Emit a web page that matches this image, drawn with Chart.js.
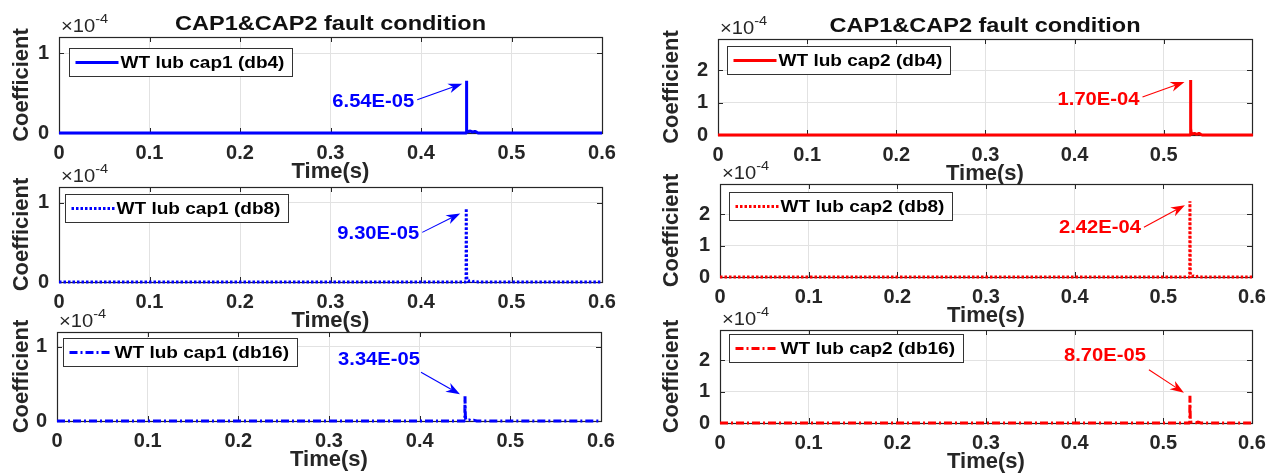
<!DOCTYPE html>
<html>
<head>
<meta charset="utf-8">
<script src="https://cdn.jsdelivr.net/npm/chart.js@4.4.0/dist/chart.umd.min.js"></script>
<style>
    html, body { margin: 0; padding: 0; background: #fff; }
    #wrap { position: relative; width: 1278px; height: 475px; overflow: hidden; background: #fff; }
    #wrap canvas { position: absolute; left: 0; top: 0; }
</style>
</head>
<body>
<div id="wrap">
    <canvas id="c1" width="1278" height="475"></canvas>
    <canvas id="c2" width="1278" height="475"></canvas>
    <canvas id="c3" width="1278" height="475"></canvas>
    <canvas id="c4" width="1278" height="475"></canvas>
    <canvas id="c5" width="1278" height="475"></canvas>
    <canvas id="c6" width="1278" height="475"></canvas>
</div>
<script>
// ---- data ----
const cap1Time = [0, 0.4498, 0.45, 0.4504, 0.4508, 0.452, 0.4545, 0.457, 0.4595, 0.4615, 0.463, 0.6];
const cap1Db4  = [0, 0, 6.54e-5, 1.2e-5, 4.0e-6, 1.5e-6, 2.5e-6, 1.0e-6, 2.0e-6, 1.0e-6, 0, 0];
const cap1Db8  = [0, 0, 9.30e-5, 8.0e-6, 3.0e-6, 1.0e-6, 1.5e-6, 0.5e-6, 1.0e-6, 0.5e-6, 0, 0];
const cap1Db16 = [0, 0, 3.34e-5, 6.0e-6, 2.0e-6, 1.0e-6, 1.5e-6, 0.5e-6, 1.0e-6, 0.5e-6, 0, 0];

const cap2Time = [0, 0.5298, 0.53, 0.5304, 0.5308, 0.532, 0.5345, 0.537, 0.5395, 0.5415, 0.543, 0.6];
const cap2Db4  = [0, 0, 1.70e-4, 2.0e-5, 6.0e-6, 3.0e-6, 5.0e-6, 2.0e-6, 5.0e-6, 2.0e-6, 0, 0];
const cap2Db8  = [0, 0, 2.42e-4, 1.5e-5, 5.0e-6, 2.0e-6, 3.0e-6, 1.0e-6, 3.0e-6, 1.0e-6, 0, 0];
const cap2Db16 = [0, 0, 8.70e-5, 1.0e-5, 4.0e-6, 2.0e-6, 3.0e-6, 1.0e-6, 3.0e-6, 1.0e-6, 0, 0];

const legendLabels = ["WT lub cap1 (db4)", "WT lub cap1 (db8)", "WT lub cap1 (db16)",
                      "WT lub cap2 (db4)", "WT lub cap2 (db8)", "WT lub cap2 (db16)"];
const peakLabels = ["6.54E-05", "9.30E-05", "3.34E-05", "1.70E-04", "2.42E-04", "8.70E-05"];
const titleText = "CAP1&CAP2 fault condition";

const xTickValues = [0, 0.1, 0.2, 0.3, 0.4, 0.5, 0.6];
const xTickLabels = ["0", "0.1", "0.2", "0.3", "0.4", "0.5", "0.6"];
const cap1YTickValues = [0, 1e-4];
const cap1YTickLabels = ["0", "1"];
const cap2YTickValues = [0, 1e-4, 2e-4];
const cap2YTickLabels = ["0", "1", "2"];
const cap1YMax = 1.2e-4;
const cap2YMax = 2.97e-4;

// ---- look ----
const FONT = '"Liberation Sans", Arial, Helvetica, sans-serif';
const INK = "#262626";
const BLUE = "#0000ff";
const RED = "#ff0000";
const SX = 1.12; // text in the figure is a bit wider than plain Arial

const DOTTED = [2.5, 2];
const DASHDOT = [8, 3, 2, 3];

const panels = [
    { id: "c1", time: cap1Time, values: cap1Db4, label: legendLabels[0], peak: peakLabels[0], color: BLUE, dash: [],
      xMax: 0.6, yMax: cap1YMax, yTicks: cap1YTickValues, yLabels: cap1YTickLabels,
      area: { l: 59, t: 37, r: 602, b: 133 }, yW: 48, title: true,
      legend: [10, 11], note: { text: [-93, 21], tail: [-49, 19], tip: [-4, 3] } },
    { id: "c2", time: cap1Time, values: cap1Db8, label: legendLabels[1], peak: peakLabels[1], color: BLUE, dash: DOTTED,
      xMax: 0.6, yMax: cap1YMax, yTicks: cap1YTickValues, yLabels: cap1YTickLabels,
      area: { l: 59, t: 187, r: 602, b: 282 }, yW: 48, title: false,
      legend: [6, 7], note: { text: [-88, 26], tail: [-44, 24], tip: [-6, 5] } },
    { id: "c3", time: cap1Time, values: cap1Db16, label: legendLabels[2], peak: peakLabels[2], color: BLUE, dash: DASHDOT,
      xMax: 0.6, yMax: cap1YMax, yTicks: cap1YTickValues, yLabels: cap1YTickLabels,
      area: { l: 57, t: 332, r: 601, b: 421 }, yW: 46, title: false,
      legend: [6, 6], note: { text: [-86, -36], tail: [-44, -24], tip: [-5, -2] } },
    { id: "c4", time: cap2Time, values: cap2Db4, label: legendLabels[3], peak: peakLabels[3], color: RED, dash: [],
      xMax: 0.599, yMax: cap2YMax, yTicks: cap2YTickValues, yLabels: cap2YTickLabels,
      area: { l: 718, t: 39, r: 1252, b: 135 }, yW: 57, title: true,
      legend: [9, 7], note: { text: [-92, 20], tail: [-48, 17], tip: [-6, 2] } },
    { id: "c5", time: cap2Time, values: cap2Db8, label: legendLabels[4], peak: peakLabels[4], color: RED, dash: DOTTED,
      xMax: 0.6, yMax: cap2YMax, yTicks: cap2YTickValues, yLabels: cap2YTickLabels,
      area: { l: 720, t: 184, r: 1252, b: 277 }, yW: 59, title: false,
      legend: [9, 8], note: { text: [-90, 27], tail: [-46, 26], tip: [-5, 4] } },
    { id: "c6", time: cap2Time, values: cap2Db16, label: legendLabels[5], peak: peakLabels[5], color: RED, dash: DASHDOT,
      xMax: 0.6, yMax: cap2YMax, yTicks: cap2YTickValues, yLabels: cap2YTickLabels,
      area: { l: 720, t: 330, r: 1252, b: 423 }, yW: 59, title: false,
      legend: [9, 4], note: { text: [-85, -40], tail: [-41, -26], tip: [-6, -3] } }
];

function stretchedText(ctx, text, x, y) {
    ctx.save();
    ctx.translate(x, y);
    ctx.scale(SX, 1);
    ctx.fillText(text, 0, 0);
    ctx.restore();
}

function drawArrow(ctx, x0, y0, x1, y1, color) {
    const ang = Math.atan2(y1 - y0, x1 - x0);
    const c = Math.cos(ang), s = Math.sin(ang);
    const len = 14, half = 5;
    const bx = x1 - len * c, by = y1 - len * s;
    const nx = x1 - 0.7 * len * c, ny = y1 - 0.7 * len * s;
    ctx.save();
    ctx.strokeStyle = color;
    ctx.fillStyle = color;
    ctx.lineWidth = 1.1;
    ctx.setLineDash([]);
    ctx.beginPath();
    ctx.moveTo(x0, y0);
    ctx.lineTo(nx, ny);
    ctx.stroke();
    ctx.beginPath();
    ctx.moveTo(x1, y1);
    ctx.lineTo(bx - half * s, by + half * c);
    ctx.lineTo(nx, ny);
    ctx.lineTo(bx + half * s, by - half * c);
    ctx.closePath();
    ctx.fill();
    ctx.restore();
}

// frame, inward ticks, legend box, peak note, title
const decorPlugin = {
    id: "decor",
    beforeDatasetsDraw(chart, args, opts) {
        const p = opts.panel;
        const ctx = chart.ctx;
        const { left, right, top, bottom } = chart.chartArea;
        const xs = chart.scales.x, ys = chart.scales.y;
        ctx.save();
        ctx.strokeStyle = INK;
        ctx.lineWidth = 1;
        ctx.beginPath();
        xTickValues.forEach((v) => {
            if (v > p.xMax + 1e-9) return;
            const px = Math.round(xs.getPixelForValue(v)) + 0.5;
            ctx.moveTo(px, bottom); ctx.lineTo(px, bottom - 5);
            ctx.moveTo(px, top); ctx.lineTo(px, top + 5);
        });
        p.yTicks.forEach((v) => {
            const py = Math.round(ys.getPixelForValue(v)) + 0.5;
            ctx.moveTo(left, py); ctx.lineTo(left + 5, py);
            ctx.moveTo(right, py); ctx.lineTo(right - 5, py);
        });
        ctx.stroke();
        ctx.lineWidth = 1.2;
        ctx.strokeRect(Math.round(left) + 0.5, Math.round(top) + 0.5,
                       Math.round(right - left), Math.round(bottom - top));
        ctx.restore();
    },
    afterDatasetsDraw(chart, args, opts) {
        const p = opts.panel;
        const ctx = chart.ctx;
        const { left, right, top } = chart.chartArea;
        const xs = chart.scales.x, ys = chart.scales.y;

        // exponent label above the y axis
        ctx.save();
        ctx.fillStyle = INK;
        ctx.textBaseline = "alphabetic";
        ctx.font = "18px " + FONT;
        stretchedText(ctx, "\u00d710", left + 2, top - 5);
        const w = ctx.measureText("\u00d710").width * SX;
        ctx.font = "13px " + FONT;
        stretchedText(ctx, "-4", left + 2 + w, top - 14);
        ctx.restore();

        // title
        if (p.title) {
            ctx.save();
            ctx.fillStyle = "#111";
            ctx.font = "bold 21px " + FONT;
            ctx.textAlign = "center";
            ctx.textBaseline = "alphabetic";
            stretchedText(ctx, titleText, (left + right) / 2, top - 7);
            ctx.restore();
        }

        // legend
        ctx.save();
        ctx.font = "bold 17px " + FONT;
        const tw = ctx.measureText(p.label).width * SX;
        const bx = Math.round(left + p.legend[0]) + 0.5;
        const by = Math.round(top + p.legend[1]) + 0.5;
        const bh = 28, bw = Math.round(52 + tw + 7);
        ctx.fillStyle = "#fff";
        ctx.fillRect(bx, by, bw, bh);
        ctx.strokeStyle = "#333";
        ctx.lineWidth = 1;
        ctx.strokeRect(bx, by, bw, bh);
        ctx.strokeStyle = p.color;
        ctx.lineWidth = 3;
        ctx.setLineDash(p.dash);
        ctx.beginPath();
        ctx.moveTo(bx + 6, by + bh / 2);
        ctx.lineTo(bx + 49, by + bh / 2);
        ctx.stroke();
        ctx.setLineDash([]);
        ctx.fillStyle = "#000";
        ctx.textBaseline = "middle";
        stretchedText(ctx, p.label, bx + 51, by + bh / 2 + 1);
        ctx.restore();

        // peak note with arrow
        let peakIdx = 0;
        p.values.forEach((v, i) => { if (v > p.values[peakIdx]) peakIdx = i; });
        const sx = xs.getPixelForValue(p.time[peakIdx]);
        const sy = ys.getPixelForValue(p.values[peakIdx]);
        ctx.save();
        ctx.fillStyle = p.color;
        ctx.font = "bold 18px " + FONT;
        ctx.textAlign = "center";
        ctx.textBaseline = "middle";
        stretchedText(ctx, p.peak, sx + p.note.text[0], sy + p.note.text[1]);
        ctx.restore();
        drawArrow(ctx, sx + p.note.tail[0], sy + p.note.tail[1], sx + p.note.tip[0], sy + p.note.tip[1], p.color);
    }
};

function labelFor(values, labels, value, maxValue) {
    if (value > maxValue + 1e-9) return null;
    const i = values.findIndex((v) => Math.abs(v - value) < 1e-9);
    return i >= 0 ? labels[i] : null;
}

function makePanel(p) {
    const xH = 50;
    const points = p.time.map((t, i) => ({ x: t, y: p.values[i] }));
    const xTicks = xTickValues.filter((v) => v <= p.xMax + 1e-9);

    new Chart(document.getElementById(p.id), {
        type: "line",
        data: {
            datasets: [{
                label: p.label,
                data: points,
                borderColor: p.color,
                borderWidth: 3,
                borderDash: p.dash,
                borderJoinStyle: "bevel",
                pointRadius: 0,
                tension: 0,
                fill: false,
                clip: 5
            }]
        },
        options: {
            responsive: false,
            animation: false,
            events: [],
            layout: {
                autoPadding: false,
                padding: {
                    left: p.area.l - p.yW,
                    top: p.area.t,
                    right: 1278 - p.area.r,
                    bottom: 475 - p.area.b - xH
                }
            },
            plugins: {
                legend: { display: false },
                title: { display: false },
                tooltip: { enabled: false },
                decor: { panel: p }
            },
            scales: {
                x: {
                    type: "linear",
                    min: 0,
                    max: p.xMax,
                    afterBuildTicks: (scale) => {
                        scale.ticks = xTicks.map((v) => ({ value: v }));
                    },
                    afterFit: (scale) => { scale.height = xH; },
                    grid: { color: "#e2e2e2", lineWidth: 1, drawTicks: false },
                    border: { display: false },
                    ticks: {
                        autoSkip: false,
                        maxRotation: 0,
                        padding: 8,
                        color: INK,
                        font: { family: FONT, size: 20, weight: "bold", lineHeight: 1.2 },
                        callback: (value) => labelFor(xTickValues, xTickLabels, value, p.xMax)
                    },
                    title: {
                        display: true,
                        text: "Time(s)",
                        color: INK,
                        padding: { top: 0, bottom: 0 },
                        font: { family: FONT, size: 22, weight: "bold", lineHeight: 1 }
                    }
                },
                y: {
                    type: "linear",
                    min: 0,
                    max: p.yMax,
                    afterBuildTicks: (scale) => {
                        scale.ticks = p.yTicks.map((v) => ({ value: v }));
                    },
                    afterFit: (scale) => { scale.width = p.yW; },
                    grid: { color: "#e2e2e2", lineWidth: 1, drawTicks: false },
                    border: { display: false },
                    ticks: {
                        autoSkip: false,
                        padding: 10,
                        color: INK,
                        font: { family: FONT, size: 20, weight: "bold", lineHeight: 1.2 },
                        callback: (value) => labelFor(p.yTicks, p.yLabels, value, p.yMax)
                    },
                    title: {
                        display: true,
                        text: "Coefficient",
                        color: INK,
                        padding: { top: 0, bottom: 0 },
                        font: { family: FONT, size: 22, weight: "bold", lineHeight: 1 }
                    }
                }
            }
        },
        plugins: [decorPlugin]
    });
}

panels.forEach(makePanel);
</script>
</body>
</html>
